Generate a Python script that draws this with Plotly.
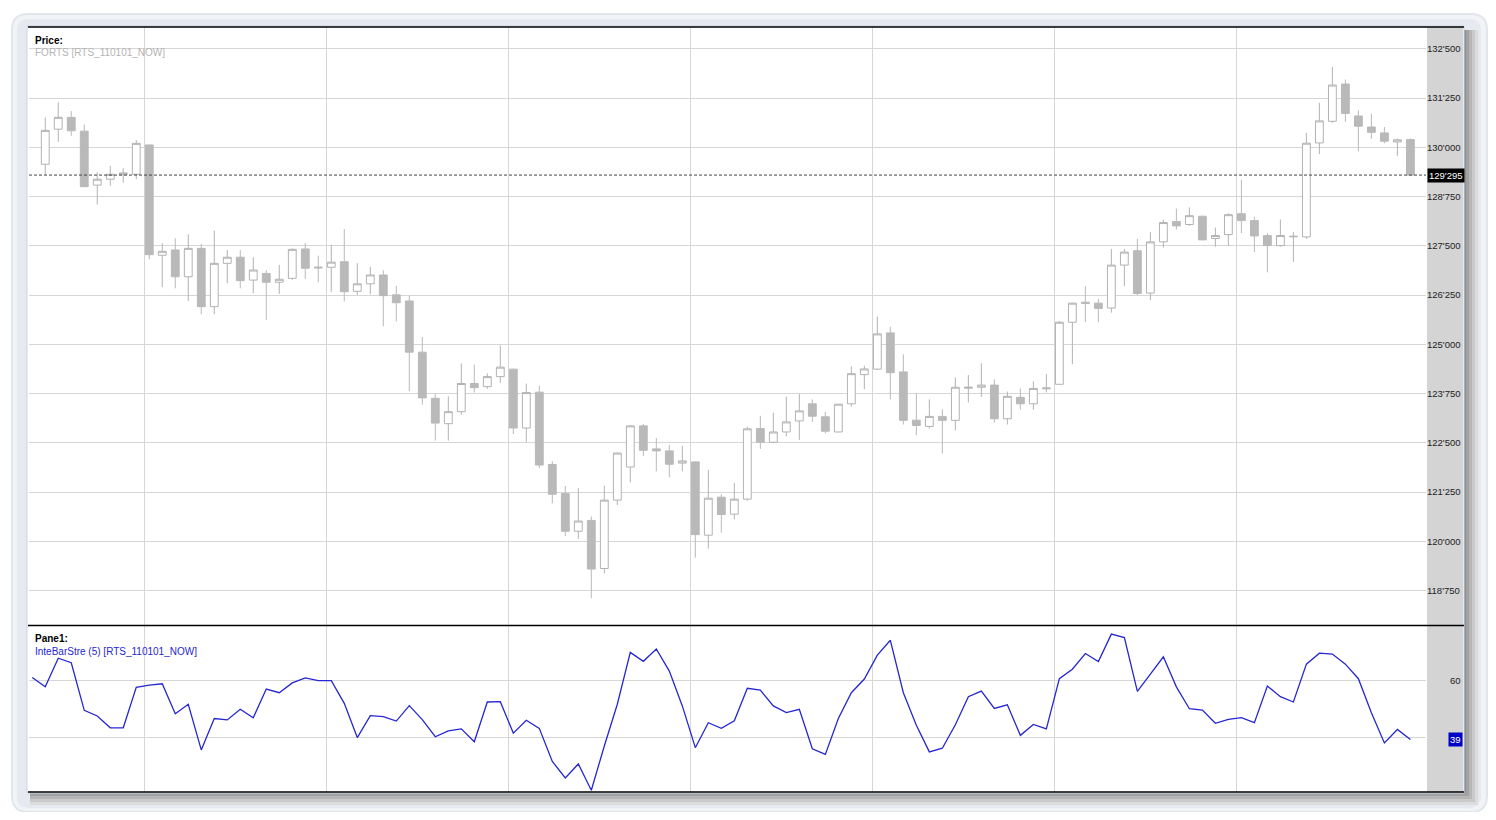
import plotly.graph_objects as go

# 价格数据 (RTS 期货, 每根K线)
bar_open = [129570, 130460, 130760, 130410, 129040, 129190, 129305, 129315, 130060, 127260,
            127395, 126715, 127435, 125955, 127055, 127210, 126630, 126800, 126575, 126675,
            127420, 126960, 126955, 127095, 126345, 126535, 126760, 126255, 126100, 124800,
            123630, 122985, 123290, 124005, 123925, 124180, 124370, 122875, 123785, 121950,
            121210, 120255, 120530, 119310, 121045, 121885, 122930, 122345, 122295, 121985,
            122015, 120155, 121120, 120690, 121070, 122860, 122515, 122775, 123055, 123490,
            123160, 122775, 123490, 124230, 124370, 125290, 124300, 123075, 122915, 123170,
            123070, 123885, 123910, 123965, 123110, 123655, 123490, 123870, 123985, 125560,
            126070, 126045, 125920, 127010, 127375, 126300, 127600, 128115, 128040, 128250,
            127685, 127785, 128315, 128140, 127760, 127505, 127730, 127725, 130110, 130660,
            131605, 130795, 130515, 130365, 130135, 130195]
bar_high = [130760, 131140, 130920, 130580, 129370, 129525, 129470, 130185, 130060, 127565,
            127690, 127790, 127545, 127885, 127395, 127395, 127210, 126880, 127015, 127435,
            127570, 127250, 127525, 127925, 127060, 126965, 126880, 126480, 126235, 125185,
            123750, 123680, 124515, 124485, 124260, 124970, 124380, 124005, 123955, 122030,
            121405, 121350, 120630, 121410, 122255, 122955, 122980, 122625, 122445, 122420,
            122030, 121810, 121200, 121480, 122910, 123185, 123260, 123670, 123735, 123600,
            123285, 123490, 124440, 124457, 125700, 125445, 124745, 123755, 123605, 123350,
            124160, 124220, 124520, 124110, 123800, 123880, 124060, 124245, 125595, 126060,
            126475, 126155, 127420, 127420, 127675, 127845, 128165, 128445, 128475, 128270,
            127960, 128325, 129175, 128240, 127825, 128165, 127845, 130365, 131130, 132040,
            131720, 130940, 130855, 130515, 130220, 130220]
bar_low = [129300, 130140, 130290, 128990, 128550, 129025, 129100, 129190, 127160, 126450,
           126420, 126100, 125760, 125760, 126550, 126420, 126295, 125620, 126280, 126630,
           126660, 126570, 126330, 126085, 126255, 126270, 125455, 125580, 123815, 123470,
           122555, 122555, 123215, 123775, 123870, 124020, 122720, 122520, 121855, 120965,
           120135, 120060, 118560, 119180, 120920, 121495, 122165, 121775, 121625, 121775,
           119585, 119815, 120220, 120555, 121030, 122345, 122490, 122665, 122575, 123030,
           122745, 122770, 123420, 123860, 124350, 123605, 122965, 122690, 122865, 122230,
           122815, 123525, 123670, 123010, 122965, 123340, 123340, 123780, 123970, 124495,
           125560, 125560, 125805, 126475, 126250, 126120, 127455, 127910, 128005, 127640,
           127475, 127500, 127825, 127345, 126825, 127475, 127095, 127675, 129825, 130620,
           130645, 129895, 130215, 130105, 129785, 129280]
bar_close = [130430, 130760, 130420, 129000, 129190, 129315, 129350, 130100, 127275, 127360,
             126715, 127435, 125955, 127055, 127210, 126615, 126885, 126575, 126650, 127410,
             126930, 126940, 127085, 126335, 126535, 126760, 126235, 126055, 124800, 123640,
             123000, 123290, 124005, 123900, 124180, 124420, 122875, 123775, 121935, 121195,
             120255, 120515, 119295, 121045, 122240, 122930, 122310, 122295, 121955, 122040,
             120170, 121095, 120680, 121070, 122855, 122515, 122775, 123030, 123310, 123175,
             122795, 123480, 124255, 124375, 125265, 124280, 123070, 122940, 123170, 123070,
             123910, 123910, 123965, 123110, 123680, 123490, 123880, 123890, 125560, 126045,
             126035, 125910, 127010, 127340, 126290, 127600, 128090, 128005, 128265, 127650,
             127760, 128290, 128140, 127750, 127505, 127760, 127740, 130105, 130670, 131580,
             130860, 130535, 130380, 130155, 130190, 129295]

# 指标 InteBarStre (5), 比K线多一个起始点
ibs_values = [61.2, 57.9, 68.1, 66.5, 49.5, 47.5, 43.3, 43.3, 57.7, 58.5,
              59.0, 48.3, 51.7, 35.4, 46.6, 46.1, 49.9, 46.9, 57.1, 55.8,
              59.3, 61.1, 60.1, 60.1, 52.0, 39.8, 47.6, 47.3, 45.7, 51.2,
              46.2, 40.1, 42.2, 42.9, 38.3, 52.5, 52.6, 41.4, 46.0, 43.1,
              31.3, 25.4, 30.4, 21.0, 36.8, 51.7, 70.2, 67.0, 71.4, 63.5,
              51.1, 36.2, 45.1, 43.1, 45.8, 57.4, 56.7, 51.1, 48.7, 49.9,
              35.8, 33.8, 46.6, 55.8, 60.7, 69.2, 74.5, 55.8, 44.2, 34.7,
              36.0, 44.4, 54.4, 56.4, 50.2, 51.5, 40.6, 44.5, 42.9, 60.8,
              64.2, 69.8, 66.9, 76.7, 75.5, 56.3, 62.4, 68.6, 57.9, 50.1,
              49.6, 44.9, 46.3, 46.9, 45.1, 58.2, 54.4, 52.5, 66.0, 69.9,
              69.6, 66.0, 60.8, 48.7, 37.9, 42.7, 39.1]

price_ticks = list(range(118750, 132501, 1250))
ibs_ticks = [40, 60]

bar_x = list(range(1, len(bar_close) + 1))
ibs_x = list(range(len(ibs_values)))

# 页面 body 有 8px 边距, 图表尺寸相应缩小
OFF = 8
W, H = 1480, 804


def px(x):
    return (x - OFF) / W


def py(y):
    return 1 - (y - OFF) / H


def fmt(v):
    v = int(round(v))
    return "%d'%03d" % (v // 1000, v % 1000)


def rounded_rect(x0, y0, x1, y1, r):
    # 圆角矩形路径 (paper 坐标)
    rx, ry = r / W, r / H
    a, b, c, d = px(x0), px(x1), py(y1), py(y0)
    return ("M %f,%f L %f,%f Q %f,%f %f,%f L %f,%f Q %f,%f %f,%f "
            "L %f,%f Q %f,%f %f,%f L %f,%f Q %f,%f %f,%f Z" % (
                a + rx, c, b - rx, c, b, c, b, c + ry, b, d - ry, b, d, b - rx, d,
                a + rx, d, a, d, a, d - ry, a, c + ry, a, c, a + rx, c))


FONT = "Liberation Sans"
GRID = "#d6d6d6"

candles = go.Candlestick(
    x=bar_x, open=bar_open, high=bar_high, low=bar_low, close=bar_close,
    xaxis="x", yaxis="y",
    increasing=dict(line=dict(color="#b2b2b2", width=1), fillcolor="white"),
    decreasing=dict(line=dict(color="#b9b9b9", width=1), fillcolor="#b9b9b9"),
    whiskerwidth=0, showlegend=False, hoverinfo="skip",
)

ibs_line = go.Scatter(
    x=ibs_x, y=ibs_values, mode="lines", xaxis="x2", yaxis="y2",
    line=dict(color="#2626d2", width=1.3), showlegend=False, hoverinfo="skip",
)

vgrid = [8.6 + 14 * k for k in range(7)]
x_range = [-0.25, 107.2]

shapes = []
# 窗口外框和阴影
shapes.append(dict(type="path", xref="paper", yref="paper", layer="below",
                   path=rounded_rect(12, 14, 1487, 812, 16),
                   fillcolor="#f1f3f7", line=dict(color="#e2e6ec", width=2)))
shapes.append(dict(type="path", xref="paper", yref="paper", layer="below",
                   path=rounded_rect(17, 19, 1481, 808, 12),
                   fillcolor="#e6e9ef", line=dict(width=0)))
for i, c in enumerate(["#8e8e8e", "#a2a2a2", "#b6b6b6", "#cacaca", "#dcdcdc"]):
    shapes.append(dict(type="rect", xref="paper", yref="paper", layer="below",
                       x0=px(30), x1=px(1466 + 3 * i), y0=py(793 + 3 * i), y1=py(790 + 3 * i),
                       fillcolor=c, line=dict(width=0)))
    shapes.append(dict(type="rect", xref="paper", yref="paper", layer="below",
                       x0=px(1463 + 3 * i), x1=px(1466 + 3 * i), y0=py(793 + 3 * i), y1=py(30),
                       fillcolor=c, line=dict(width=0)))
shapes.append(dict(type="rect", xref="paper", yref="paper", layer="below",
                   x0=px(27), x1=px(1464), y0=py(793), y1=py(26),
                   fillcolor="white", line=dict(color="#c8d4e4", width=1)))
shapes.append(dict(type="rect", xref="paper", yref="paper", layer="below",
                   x0=px(1427), x1=px(1463), y0=py(792), y1=py(27),
                   fillcolor="#d4d4d4", line=dict(width=0)))
# 面板分隔线
for yy in [27, 625.5, 792]:
    shapes.append(dict(type="line", xref="paper", yref="paper",
                       x0=px(28), x1=px(1464), y0=py(yy), y1=py(yy),
                       line=dict(color="black", width=1.3)))
# 最新价虚线
shapes.append(dict(type="line", xref="paper", yref="y",
                   x0=px(29), x1=px(1426), y0=bar_close[-1], y1=bar_close[-1],
                   line=dict(color="#444444", width=1, dash="3px,2px")))

annotations = [
    dict(text="<b>Price:</b>", x=px(33), y=py(40), xref="paper", yref="paper",
         xanchor="left", yanchor="middle", showarrow=False,
         font=dict(family=FONT, size=10, color="black")),
    dict(text="FORTS [RTS_110101_NOW]", x=px(33), y=py(53), xref="paper", yref="paper",
         xanchor="left", yanchor="middle", showarrow=False,
         font=dict(family=FONT, size=10, color="#b4b4b4")),
    dict(text="<b>Pane1:</b>", x=px(33), y=py(638), xref="paper", yref="paper",
         xanchor="left", yanchor="middle", showarrow=False,
         font=dict(family=FONT, size=10, color="black")),
    dict(text="InteBarStre (5) [RTS_110101_NOW]", x=px(33), y=py(651), xref="paper", yref="paper",
         xanchor="left", yanchor="middle", showarrow=False,
         font=dict(family=FONT, size=10, color="#2626d2")),
    dict(text=fmt(bar_close[-1]), x=px(1427), y=bar_close[-1], xref="paper", yref="y",
         xanchor="left", yanchor="middle", showarrow=False, bgcolor="black", borderpad=1,
         font=dict(family=FONT, size=9.5, color="white")),
    dict(text=str(ibs_ticks[1]), x=px(1463), y=ibs_ticks[1], xref="paper", yref="y2",
         xanchor="right", yanchor="middle", showarrow=False,
         font=dict(family=FONT, size=9.5, color="#222222")),
    dict(text=str(int(round(ibs_values[-1]))), x=px(1463), y=ibs_values[-1], xref="paper", yref="y2",
         xanchor="right", yanchor="middle", showarrow=False, bgcolor="#0000c8", borderpad=1,
         font=dict(family=FONT, size=9.5, color="white")),
]

layout = go.Layout(
    width=W, height=H,
    margin=dict(l=0, r=0, t=0, b=0),
    paper_bgcolor="white", plot_bgcolor="rgba(0,0,0,0)",
    boxgap=0.14,
    xaxis=dict(domain=[px(29), px(1426)], range=x_range, rangeslider=dict(visible=False),
               tickvals=vgrid, showticklabels=False, showgrid=True, gridcolor=GRID,
               zeroline=False, showline=False, ticks=""),
    yaxis=dict(domain=[py(625), py(27)], range=[117876, 133053], side="right",
               tickvals=price_ticks, ticktext=[fmt(v) for v in price_ticks],
               showgrid=True, gridcolor=GRID, zeroline=False, showline=False,
               ticks="",
               tickfont=dict(family=FONT, size=9.5, color="#222222")),
    xaxis2=dict(domain=[px(29), px(1426)], range=x_range, anchor="y2",
                tickvals=vgrid, showticklabels=False, showgrid=True, gridcolor=GRID,
                zeroline=False, showline=False, ticks=""),
    yaxis2=dict(domain=[py(791.7), py(626)], range=[20.5, 79.6], anchor="x2", side="right",
                tickvals=ibs_ticks, showticklabels=False, showgrid=True, gridcolor=GRID,
                zeroline=False, showline=False, ticks=""),
    shapes=shapes,
    annotations=annotations,
)

fig = go.Figure([candles, ibs_line], layout=layout)
fig.write_html("out.html")
